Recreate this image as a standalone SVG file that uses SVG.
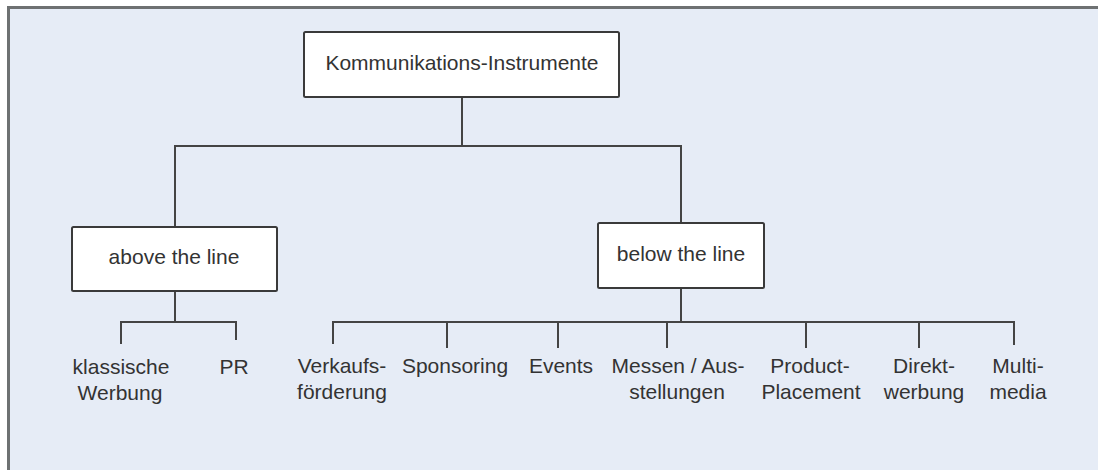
<svg xmlns="http://www.w3.org/2000/svg" width="1098" height="470" viewBox="0 0 1098 470">
  <style>
    .frame { fill: #e6ecf6; stroke: #6e7172; stroke-width: 3; }
    .box { fill: #ffffff; stroke: #3a3a3a; stroke-width: 2; }
    .wire { fill: none; stroke: #444444; stroke-width: 2; stroke-linecap: square; stroke-linejoin: miter; }
    text { font-family: "Liberation Sans", Arial, sans-serif; font-size: 21px; fill: #333333; text-anchor: middle; }
  </style>

  <!-- page background and panel -->
  <rect x="0" y="0" width="1098" height="470" fill="#ffffff"/>
  <rect class="frame" x="8.5" y="7.5" width="1100" height="480"/>

  <!-- connectors -->
  <g id="connectors">
    <!-- root to the two branches -->
    <path class="wire" d="M462 97 V146 M175 227 V146 H681 V223"/>
    <!-- above the line: children -->
    <path class="wire" d="M175 291 V322 M121 343 V322 H236 V339"/>
    <!-- below the line: children -->
    <path class="wire" d="M681 288 V322 M333 343 V322 H1014 V344 M447 322 V347 M558 322 V347 M667 322 V347 M806 322 V347 M919 322 V347"/>
  </g>

  <g id="node-root">
    <rect class="box" x="304" y="32" width="315" height="65" rx="1.5"/>
    <text x="462" y="70">Kommunikations-Instrumente</text>
  </g>

  <g id="node-above">
    <rect class="box" x="72" y="227" width="205" height="64" rx="1.5"/>
    <text x="174" y="264">above the line</text>
  </g>

  <g id="node-below">
    <rect class="box" x="598" y="223" width="166" height="65" rx="1.5"/>
    <text x="681" y="261">below the line</text>
  </g>

  <g id="node-klassische-werbung">
    <text x="121" y="374">klassische</text>
    <text x="120" y="400">Werbung</text>
  </g>

  <g id="node-pr">
    <text x="234" y="374">PR</text>
  </g>

  <g id="node-verkaufsfoerderung">
    <text x="342" y="373">Verkaufs-</text>
    <text x="342" y="399">förderung</text>
  </g>

  <g id="node-sponsoring">
    <text x="455" y="373">Sponsoring</text>
  </g>

  <g id="node-events">
    <text x="561" y="373">Events</text>
  </g>

  <g id="node-messen">
    <text x="678" y="373">Messen / Aus-</text>
    <text x="677" y="399">stellungen</text>
  </g>

  <g id="node-product-placement">
    <text x="810" y="373">Product-</text>
    <text x="811" y="399">Placement</text>
  </g>

  <g id="node-direktwerbung">
    <text x="924" y="373">Direkt-</text>
    <text x="924" y="399">werbung</text>
  </g>

  <g id="node-multimedia">
    <text x="1018" y="373">Multi-</text>
    <text x="1018" y="399">media</text>
  </g>
</svg>
